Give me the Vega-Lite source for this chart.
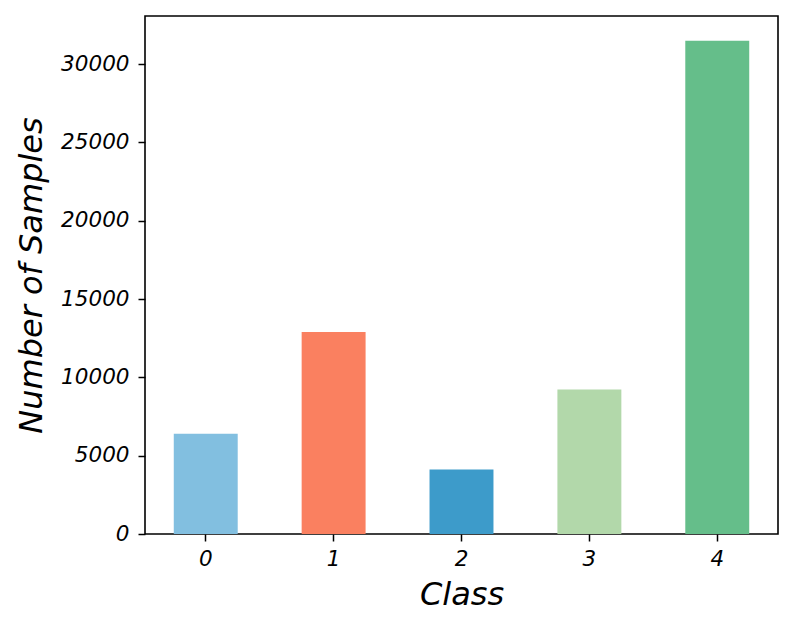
{
  "$schema": "https://vega.github.io/schema/vega-lite/v6.json",
  "autosize": "none",
  "width": 633,
  "height": 518,
  "padding": {"left": 145, "top": 16, "right": 16, "bottom": 95},
  "config": {
    "view": {"stroke": "black", "strokeWidth": 1.6},
    "font": "DejaVu Sans",
    "axis": {
      "grid": false,
      "domain": false,
      "tickColor": "black",
      "tickWidth": 1.5,
      "tickSize": 7,
      "labelColor": "black",
      "labelFont": "DejaVu Sans",
      "labelFontStyle": "italic",
      "labelFontSize": 21.5,
      "titleFont": "DejaVu Sans",
      "titleFontStyle": "italic",
      "titleFontWeight": "normal",
      "titleFontSize": 32,
      "titleColor": "black"
    }
  },
  "data": {
    "values": [
      {"Class": "0", "Samples": 6400},
      {"Class": "1", "Samples": 12900},
      {"Class": "2", "Samples": 4125},
      {"Class": "3", "Samples": 9230},
      {"Class": "4", "Samples": 31500}
    ]
  },
  "mark": {"type": "bar"},
  "encoding": {
    "x": {
      "field": "Class",
      "type": "ordinal",
      "scale": {"paddingInner": 0.5, "paddingOuter": 0.225},
      "axis": {"labelAngle": 0, "labelPadding": 7, "titlePadding": 10, "title": "Class"}
    },
    "y": {
      "field": "Samples",
      "type": "quantitative",
      "scale": {"domain": [0, 33075], "nice": false, "zero": true},
      "axis": {
        "values": [0, 5000, 10000, 15000, 20000, 25000, 30000],
        "format": "d",
        "labelPadding": 9,
        "titlePadding": 12,
        "title": "Number of Samples"
      }
    },
    "color": {
      "field": "Class",
      "type": "nominal",
      "scale": {
        "domain": ["0", "1", "2", "3", "4"],
        "range": ["#82bfe0", "#fa8060", "#3d9bca", "#b2d8aa", "#65be8a"]
      },
      "legend": null
    }
  }
}
